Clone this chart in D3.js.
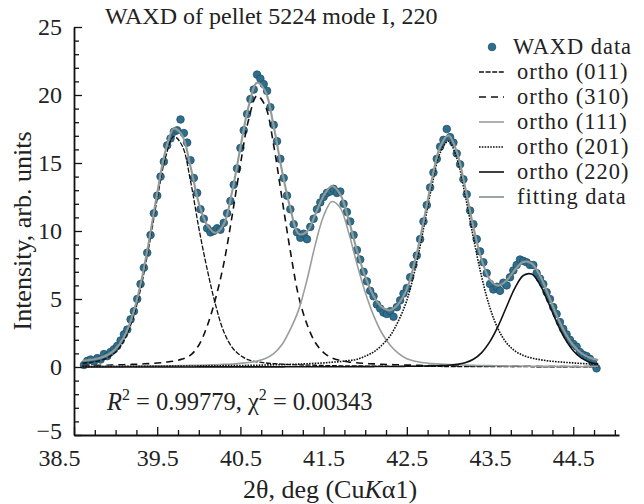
<!DOCTYPE html>
<html>
<head>
<meta charset="utf-8">
<script src="https://cdn.jsdelivr.net/npm/d3@7"></script>
<style>
  body { margin: 0; background: #fff; }
  text { font-family: "Liberation Serif", "Times New Roman", serif; fill: #222; }
</style>
</head>
<body>
<div id="chart"></div>
<script>
// grid (deg) used for the fitted components
const gridX = [
  38.6, 38.7, 38.8, 38.9, 39.0, 39.1, 39.2, 39.3, 39.4, 39.5,
  39.6, 39.7, 39.8, 39.9, 40.0, 40.1, 40.2, 40.3, 40.4, 40.5,
  40.6, 40.7, 40.8, 40.9, 41.0, 41.1, 41.2, 41.3, 41.4, 41.5,
  41.6, 41.7, 41.8, 41.9, 42.0, 42.1, 42.2, 42.3, 42.4, 42.5,
  42.6, 42.7, 42.8, 42.9, 43.0, 43.1, 43.2, 43.3, 43.4, 43.5,
  43.6, 43.7, 43.8, 43.9, 44.0, 44.1, 44.2, 44.3, 44.4, 44.5,
  44.6, 44.7, 44.8
];

const ortho011 = [
  0.28, 0.34, 0.45, 0.66, 1.09, 1.93, 3.41, 5.72, 8.84, 12.35,
  15.41, 16.95, 16.27, 13.69, 10.23, 7.2, 4.6, 2.6, 1.45, 0.85,
  0.52, 0.38, 0.30, 0.25, 0.21, 0.18, 0.16, 0.14, 0.13, 0.11,
  0.10, 0.09, 0.08, 0.08, 0.07, 0.06, 0.06, 0.05, 0.05, 0.05,
  0.04, 0.04, 0.04, 0.04, 0.03, 0.03, 0.03, 0.03, 0.03, 0.03,
  0.03, 0.03, 0.03, 0.03, 0.02, 0.02, 0.02, 0.02, 0.02, 0.02,
  0.02, 0.02, 0.02
];

const ortho310 = [
  0.10, 0.11, 0.12, 0.13, 0.15, 0.17, 0.19, 0.22, 0.25, 0.29,
  0.35, 0.43, 0.58, 0.87, 1.6, 3.0, 5.0, 7.6, 11.1, 14.9,
  18.22, 19.95, 19.18, 16.30, 12.38, 8.52, 5.2, 3.15, 1.80, 1.06,
  0.67, 0.48, 0.37, 0.31, 0.26, 0.23, 0.20, 0.18, 0.16, 0.14,
  0.13, 0.11, 0.10, 0.10, 0.09, 0.08, 0.08, 0.07, 0.07, 0.06,
  0.06, 0.05, 0.05, 0.05, 0.05, 0.04, 0.04, 0.04, 0.04, 0.04,
  0.04, 0.04, 0.04
];

const ortho111 = [
  0.04, 0.04, 0.04, 0.05, 0.05, 0.06, 0.06, 0.07, 0.07, 0.08,
  0.09, 0.09, 0.10, 0.12, 0.13, 0.15, 0.17, 0.19, 0.22, 0.27,
  0.33, 0.43, 0.62, 0.98, 1.65, 2.77, 4.2, 6.4, 9.0, 11.1,
  12.17, 11.7, 9.9, 7.6, 5.5, 3.8, 2.5, 1.6, 1.0, 0.6,
  0.42, 0.31, 0.25, 0.21, 0.18, 0.16, 0.14, 0.12, 0.11, 0.10,
  0.09, 0.08, 0.07, 0.07, 0.06, 0.06, 0.05, 0.05, 0.05, 0.04,
  0.04, 0.04, 0.04
];

const ortho201 = [
  0.04, 0.04, 0.04, 0.04, 0.04, 0.05, 0.05, 0.05, 0.06, 0.06,
  0.06, 0.07, 0.07, 0.07, 0.08, 0.08, 0.09, 0.10, 0.10, 0.11,
  0.12, 0.13, 0.15, 0.16, 0.17, 0.19, 0.21, 0.24, 0.27, 0.30,
  0.35, 0.40, 0.47, 0.56, 0.8, 1.1, 1.6, 2.3, 3.4, 4.9,
  7.2, 10.15, 13.28, 15.75, 16.6, 15.37, 12.68, 9.51, 6.61, 4.33,
  2.76, 1.76, 1.18, 0.85, 0.66, 0.54, 0.45, 0.39, 0.34, 0.30,
  0.26, 0.23, 0.21
];

const ortho220 = [
  0.00, 0.00, 0.00, 0.00, 0.00, 0.00, 0.00, 0.00, 0.00, 0.00,
  0.00, 0.00, 0.00, 0.00, 0.01, 0.01, 0.01, 0.01, 0.01, 0.01,
  0.01, 0.01, 0.01, 0.01, 0.01, 0.02, 0.02, 0.02, 0.02, 0.02,
  0.02, 0.02, 0.02, 0.03, 0.03, 0.03, 0.04, 0.04, 0.04, 0.05,
  0.06, 0.07, 0.08, 0.10, 0.13, 0.19, 0.31, 0.57, 1.06, 1.88,
  3.04, 4.45, 5.82, 6.73, 6.83, 6.06, 4.74, 3.31, 2.08, 1.20,
  0.65, 0.35, 0.20
];

const fitting = [
  0.46, 0.53, 0.65, 0.88, 1.33, 2.21, 3.71, 6.06, 9.22, 12.78,
  15.91, 17.54, 17.02, 14.75, 12.05, 10.44, 9.87, 10.50, 12.88, 16.14,
  19.20, 20.90, 20.26, 17.70, 14.42, 11.67, 9.79, 9.95, 11.22, 12.59,
  13.31, 12.69, 10.84, 8.58, 6.66, 5.22, 4.40, 4.17, 4.65, 5.74,
  7.85, 10.66, 13.74, 16.19, 17.03, 15.83, 13.24, 10.30, 7.88, 6.40,
  5.98, 6.37, 7.15, 7.73, 7.62, 6.72, 5.30, 3.81, 2.53, 1.60,
  1.01, 0.68, 0.51
];

// measured points
const waxdX = [
  38.62, 38.66, 38.70, 38.74, 38.78, 38.82, 38.86, 38.90, 38.94, 38.98,
  39.02, 39.06, 39.10, 39.14, 39.18, 39.22, 39.26, 39.30, 39.34, 39.38,
  39.42, 39.46, 39.50, 39.54, 39.58, 39.62, 39.66, 39.70, 39.74, 39.78,
  39.82, 39.86, 39.90, 39.94, 39.98, 40.02, 40.06, 40.10, 40.14, 40.18,
  40.22, 40.26, 40.30, 40.34, 40.38, 40.42, 40.46, 40.50, 40.54, 40.58,
  40.62, 40.66, 40.70, 40.74, 40.78, 40.82, 40.86, 40.90, 40.94, 40.98,
  41.02, 41.06, 41.10, 41.14, 41.18, 41.22, 41.26, 41.30, 41.34, 41.38,
  41.42, 41.46, 41.50, 41.54, 41.58, 41.62, 41.66, 41.70, 41.74, 41.78,
  41.82, 41.86, 41.90, 41.94, 41.98, 42.02, 42.06, 42.10, 42.14, 42.18,
  42.22, 42.26, 42.30, 42.34, 42.38, 42.42, 42.46, 42.50, 42.54, 42.58,
  42.62, 42.66, 42.70, 42.74, 42.78, 42.82, 42.86, 42.90, 42.94, 42.98,
  43.02, 43.06, 43.10, 43.14, 43.18, 43.22, 43.26, 43.30, 43.34, 43.38,
  43.42, 43.46, 43.50, 43.54, 43.58, 43.62, 43.66, 43.70, 43.74, 43.78,
  43.82, 43.86, 43.90, 43.94, 43.98, 44.02, 44.06, 44.10, 44.14, 44.18,
  44.22, 44.26, 44.30, 44.34, 44.38, 44.42, 44.46, 44.50, 44.54, 44.58,
  44.62, 44.66, 44.70, 44.74, 44.78
];
const waxdY = [
  0.15, 0.45, 0.55, 0.40, 0.65, 0.55, 0.95, 0.80, 1.10, 1.30,
  1.55, 1.95, 2.40, 2.75, 3.50, 4.10, 5.00, 6.10, 7.30, 8.40,
  9.70, 11.30, 12.60, 14.00, 15.10, 16.30, 16.80, 17.30, 17.40, 18.20,
  17.20, 16.50, 15.20, 13.90, 12.80, 11.60, 10.90, 10.20, 9.90, 10.00,
  10.20, 10.10, 10.60, 11.30, 12.20, 13.40, 14.60, 16.10, 17.40, 18.60,
  19.70, 20.40, 21.50, 21.20, 20.80, 20.30, 19.10, 17.80, 16.60, 15.30,
  13.90, 12.60, 11.60, 10.50, 9.90, 9.50, 9.80, 9.40, 10.30, 10.90,
  11.60, 12.10, 12.50, 12.80, 12.90, 13.10, 12.80, 12.90, 12.00, 11.40,
  10.70, 9.70, 8.60, 7.90, 7.00, 6.30, 5.60, 5.20, 4.60, 4.30,
  4.00, 3.90, 4.10, 3.70, 4.40, 4.90, 5.40, 5.80, 6.60, 7.50,
  8.20, 9.40, 10.70, 11.90, 13.20, 14.30, 15.30, 16.20, 16.70, 17.50,
  16.90, 16.50, 15.70, 14.90, 13.80, 12.70, 11.50, 10.50, 9.40, 8.50,
  7.70, 6.90, 6.10, 5.70, 5.90, 5.60, 6.20, 6.00, 6.60, 7.10,
  7.50, 7.90, 7.80, 7.70, 7.50, 7.50, 6.90, 6.50, 6.10, 5.50,
  5.00, 4.40, 3.90, 3.30, 2.80, 2.40, 2.00, 1.70, 1.50, 1.10,
  0.90, 0.80, 0.60, 0.30, -0.10
];

const xMajor = [38.5, 39.5, 40.5, 41.5, 42.5, 43.5, 44.5];
const xMinor = [38.75, 39, 39.25, 39.75, 40, 40.25, 40.75, 41, 41.25, 41.75, 42, 42.25,
  42.75, 43, 43.25, 43.75, 44, 44.25, 44.75, 45];
const yMajor = [-5, 0, 5, 10, 15, 20, 25];
const yMinor = [-4, -3, -2, -1, 1, 2, 3, 4, 6, 7, 8, 9, 11, 12, 13, 14, 16, 17, 18, 19, 21, 22, 23, 24];

const legendLabels = ["WAXD data", "ortho (011)", "ortho (310)", "ortho (111)", "ortho (201)", "ortho (220)", "fitting data"];

const width = 644, height = 504;
const x = d3.scaleLinear().domain([38.5, 45.05]).range([74, 619]);
const y = d3.scaleLinear().domain([-5, 25]).range([435, 27]);

const svg = d3.select("#chart").append("svg")
  .attr("width", width)
  .attr("height", height);

// component styles
const comps = [
  { name: "ortho (011)", values: ortho011, color: "#111", width: 1.3, dash: "5,1.6" },
  { name: "ortho (310)", values: ortho310, color: "#111", width: 1.6, dash: "7,5" },
  { name: "ortho (111)", values: ortho111, color: "#9a9e9b", width: 1.6, dash: null },
  { name: "ortho (201)", values: ortho201, color: "#111", width: 1.6, dash: "1.6,1.2" },
  { name: "ortho (220)", values: ortho220, color: "#111", width: 1.6, dash: null }
];
const fitStyle = { color: "#929b97", width: 2.1 };
const pointFill = "#2f6f8d", pointStroke = "#1f5069";

const line = d3.line()
  .x((d, i) => x(gridX[i]))
  .y(d => y(d))
  .curve(d3.curveCatmullRom.alpha(0.5));

// data points
svg.append("g").selectAll("circle")
  .data(waxdY)
  .join("circle")
  .attr("cx", (d, i) => x(waxdX[i]))
  .attr("cy", d => y(d))
  .attr("r", 3.8)
  .attr("fill", pointFill)
  .attr("stroke", pointStroke)
  .attr("stroke-width", 0.8);

// components
svg.append("g").selectAll("path")
  .data(comps)
  .join("path")
  .attr("d", c => line(c.values))
  .attr("fill", "none")
  .attr("stroke", c => c.color)
  .attr("stroke-width", c => c.width)
  .attr("stroke-dasharray", c => c.dash);

// fitting curve
svg.append("path")
  .attr("d", line(fitting))
  .attr("fill", "none")
  .attr("stroke", fitStyle.color)
  .attr("stroke-width", fitStyle.width);

// axes
const tickFont = 24;
const gx = svg.append("g").attr("transform", `translate(0,${y(-5)})`)
  .call(d3.axisBottom(x).tickValues(xMajor).tickSize(-8).tickSizeOuter(0).tickPadding(14)
    .tickFormat(d3.format(".1f")));
const gxMinor = svg.append("g").attr("transform", `translate(0,${y(-5)})`)
  .call(d3.axisBottom(x).tickValues(xMinor).tickSize(-5).tickFormat(""));
gxMinor.select(".domain").remove();

const gy = svg.append("g").attr("transform", `translate(${x(38.5)},0)`)
  .call(d3.axisLeft(y).tickValues(yMajor).tickSize(-8).tickSizeOuter(0).tickPadding(12));
const gyMinor = svg.append("g").attr("transform", `translate(${x(38.5)},0)`)
  .call(d3.axisLeft(y).tickValues(yMinor).tickSize(-5).tickFormat(""));
gyMinor.select(".domain").remove();

[gx, gy, gxMinor, gyMinor].forEach(g => {
  g.selectAll(".domain").attr("stroke", "#111").attr("stroke-width", 1.8);
  g.selectAll(".tick line").attr("stroke", "#111").attr("stroke-width", 1.3);
  g.selectAll(".tick text")
    .attr("fill", "#222")
    .style("font-family", "'Liberation Serif', serif")
    .style("font-size", tickFont + "px");
});
// corner labels: keep "38.5" and "-5" apart
gx.selectAll(".tick text").filter(d => d === 38.5).attr("dx", -15);
gy.selectAll(".tick text").filter(d => d === -5).attr("dy", "0.15em");

// title
svg.append("text")
  .attr("x", 105).attr("y", 24)
  .style("font-size", "24px")
  .text("WAXD of pellet 5224 mode I, 220");

// axis titles
svg.append("text")
  .attr("transform", `translate(31,${(y(25) + y(-5)) / 2}) rotate(-90)`)
  .attr("text-anchor", "middle")
  .style("font-size", "26px")
  .text("Intensity, arb. units");

const xt = svg.append("text")
  .attr("x", 330)
  .attr("y", 498)
  .attr("text-anchor", "middle")
  .style("font-size", "26px");
xt.append("tspan").text("2θ, deg (Cu");
xt.append("tspan").style("font-style", "italic").text("K");
xt.append("tspan").text("α1)");

// fit quality note
const note = svg.append("text")
  .attr("x", 107).attr("y", 410)
  .style("font-size", "24.5px");
note.append("tspan").style("font-style", "italic").text("R");
note.append("tspan").attr("dy", -10).style("font-size", "16px").text("2");
note.append("tspan").attr("dy", 10).text(" = 0.99779, χ");
note.append("tspan").attr("dy", -10).style("font-size", "16px").text("2");
note.append("tspan").attr("dy", 10).text(" = 0.00343");

// legend
const legend = svg.append("g");
const rowY = i => 47 + i * 25;
legendLabels.forEach((label, i) => {
  const g = legend.append("g").attr("transform", `translate(0,${rowY(i)})`);
  if (i === 0) {
    g.append("circle").attr("cx", 492).attr("cy", 0).attr("r", 3.8)
      .attr("fill", pointFill).attr("stroke", pointStroke).attr("stroke-width", 0.8);
  } else {
    const st = i <= comps.length ? comps[i - 1] : { color: fitStyle.color, width: 1.8, dash: null };
    g.append("line").attr("x1", 479).attr("x2", 504).attr("y1", 0).attr("y2", 0)
      .attr("stroke", st.color).attr("stroke-width", st.width)
      .attr("stroke-dasharray", st.dash);
  }
  g.append("text")
    .attr("x", i === 0 ? 513 : 517)
    .attr("y", 0)
    .attr("dy", "0.33em")
    .style("font-size", "22.4px")
    .style("letter-spacing", "1px")
    .text(label);
});
</script>
</body>
</html>
